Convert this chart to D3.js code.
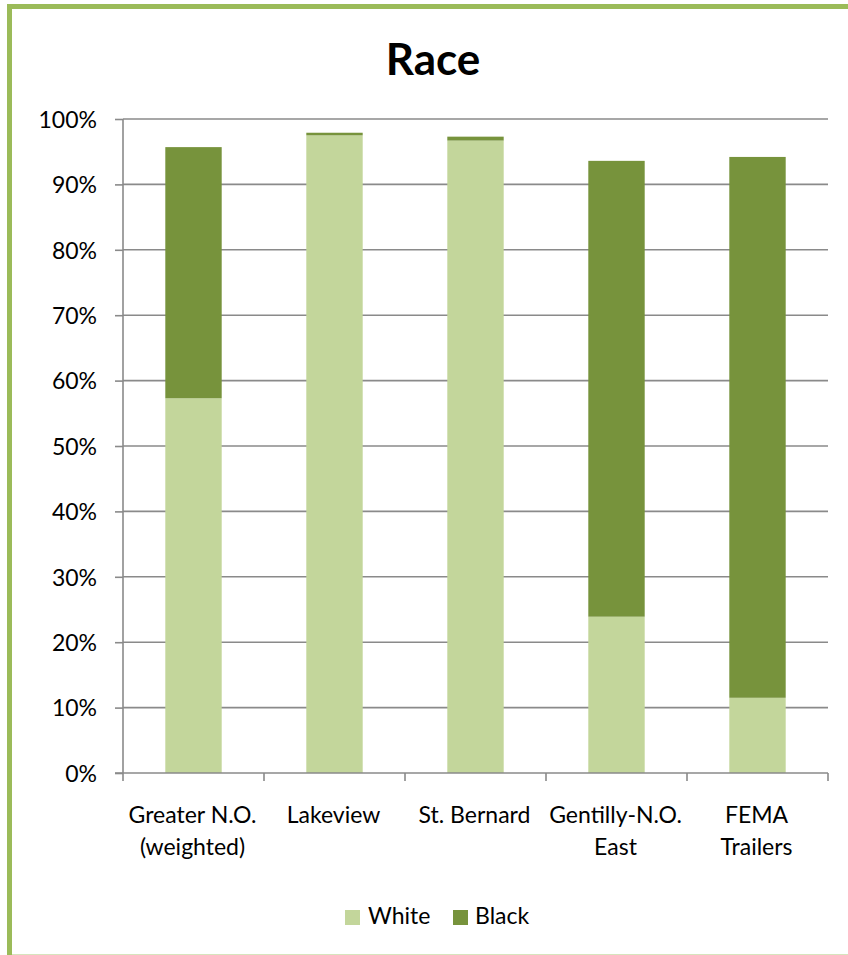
<!DOCTYPE html>
<html>
<head>
<meta charset="utf-8">
<script src="https://cdn.jsdelivr.net/npm/d3@7"></script>
<style>
  html, body { margin: 0; padding: 0; background: #fff; }
  svg { display: block; }
  text { font-family: Lato, "Open Sans", sans-serif; fill: #000; }
</style>
</head>
<body>
<svg id="chart" width="848" height="955"></svg>
<script>
// ---- data ----
const categories = [
  ["Greater N.O.", "(weighted)"],
  ["Lakeview"],
  ["St. Bernard"],
  ["Gentilly-N.O.", "East"],
  ["FEMA", "Trailers"]
];
const seriesNames = ["White", "Black"];
const white = [57.3, 97.5, 96.7, 23.9, 11.5];
const black = [38.4, 0.4, 0.6, 69.7, 82.7];
const yTicks = [0, 10, 20, 30, 40, 50, 60, 70, 80, 90, 100];
const title = "Race";

const colors = { White: "#C3D69B", Black: "#77933C" };

const svg = d3.select("#chart");
const W = 848, H = 955;
const m = { left: 123, right: 828, top: 119, bottom: 773 };
const FS = 23;

// border
svg.append("rect")
  .attr("x", 9.5).attr("y", 6.5)
  .attr("width", 850).attr("height", 960)
  .attr("fill", "#fff")
  .attr("stroke", "#9BBB59").attr("stroke-width", 5);
svg.append("line")
  .attr("x1", 12).attr("x2", W).attr("y1", 954.5).attr("y2", 954.5)
  .attr("stroke", "#d7e4bd").attr("stroke-width", 1);

// title
svg.append("text")
  .attr("x", 433).attr("y", 75)
  .attr("text-anchor", "middle")
  .attr("font-size", 44).attr("font-weight", "bold")
  .text(title);

const keys = categories.map((c, i) => i);
const x = d3.scaleBand().domain(keys).range([m.left, m.right]).paddingInner(0.6).paddingOuter(0.3);
const xOuter = d3.scaleBand().domain(keys).range([m.left, m.right]);
const y = d3.scaleLinear().domain([0, 100]).range([m.bottom, m.top]);

// gridlines
svg.append("g")
  .selectAll("line")
  .data(yTicks.filter(t => t > 0))
  .join("line")
  .attr("x1", m.left).attr("x2", m.right)
  .attr("y1", d => y(d)).attr("y2", d => y(d))
  .attr("stroke", "#8a8a8a").attr("stroke-width", 1.6);

// stacked data
const rows = keys.map(i => ({ key: i, White: white[i], Black: black[i] }));
const stack = d3.stack().keys(seriesNames)(rows);

svg.append("g")
  .selectAll("g")
  .data(stack)
  .join("g")
  .attr("fill", d => colors[d.key])
  .selectAll("rect")
  .data(d => d)
  .join("rect")
  .attr("x", d => x(d.data.key))
  .attr("width", x.bandwidth())
  .attr("y", d => y(d[1]))
  .attr("height", d => y(d[0]) - y(d[1]));

// y axis
const yAxis = d3.axisLeft(y)
  .tickValues(yTicks)
  .tickFormat(d => d + "%")
  .tickSize(8)
  .tickPadding(18);
const gy = svg.append("g").attr("transform", `translate(${m.left},0)`).call(yAxis);
gy.select(".domain").attr("stroke", "#8a8a8a").attr("stroke-width", 1.6).attr("d", `M0,${m.top}V${m.bottom}`);
gy.selectAll(".tick line").attr("stroke", "#8a8a8a").attr("stroke-width", 1.6);
gy.selectAll(".tick text")
  .attr("font-family", "Lato, 'Open Sans', sans-serif")
  .attr("font-size", FS).attr("fill", "#000").attr("dy", "0.36em");

// x axis
const gx = svg.append("g").attr("transform", `translate(0,${m.bottom})`);
gx.append("line")
  .attr("x1", m.left - 8).attr("x2", m.right)
  .attr("stroke", "#8a8a8a").attr("stroke-width", 1.6);
const boundaries = keys.map(i => xOuter(i)).concat([m.right]);
gx.selectAll("line.tk")
  .data(boundaries)
  .join("line")
  .attr("class", "tk")
  .attr("x1", d => d).attr("x2", d => d)
  .attr("y1", 0).attr("y2", 8)
  .attr("stroke", "#8a8a8a").attr("stroke-width", 1.6);

const labels = svg.append("g");
categories.forEach((lines, i) => {
  const cx = xOuter(i) + xOuter.bandwidth() / 2 - 1;
  const t = labels.append("text")
    .attr("text-anchor", "middle")
    .attr("font-size", FS);
  lines.forEach((ln, j) => {
    t.append("tspan").attr("x", cx).attr("y", 823 + j * 32).text(ln);
  });
});

// legend
const legend = svg.append("g");
const legendItems = [
  { name: "White", sx: 345, tx: 368 },
  { name: "Black", sx: 453, tx: 475 }
];
legend.selectAll("rect")
  .data(legendItems)
  .join("rect")
  .attr("x", d => d.sx).attr("y", 910)
  .attr("width", 15).attr("height", 15)
  .attr("fill", d => colors[d.name]);
legend.selectAll("text")
  .data(legendItems)
  .join("text")
  .attr("x", d => d.tx).attr("y", 924)
  .attr("font-size", FS)
  .text(d => d.name);
</script>
</body>
</html>
